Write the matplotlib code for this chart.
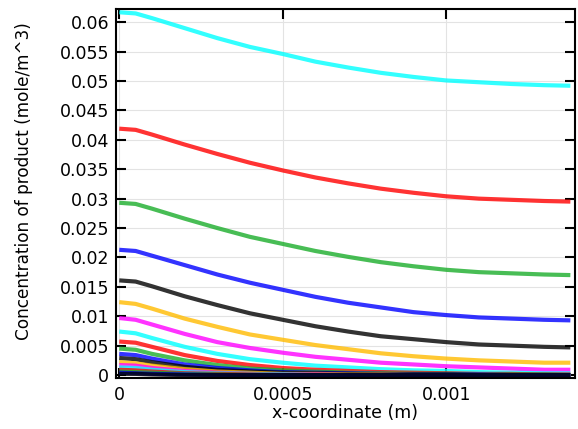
import matplotlib
matplotlib.use('Agg')
import matplotlib.pyplot as plt
from matplotlib.ticker import FuncFormatter

x_m = [0, 0.00005, 0.0001, 0.0002, 0.0003, 0.0004, 0.0005, 0.0006, 0.0007,
       0.0008, 0.0009, 0.001, 0.0011, 0.0012, 0.0013, 0.00138]

# concentration of product (mole/m^3), one list per curve, top to bottom
c01 = [0.0617, 0.0615, 0.0607, 0.0590, 0.0573, 0.0558, 0.0546, 0.0533, 0.0523,
       0.0514, 0.0507, 0.0501, 0.0498, 0.0495, 0.0493, 0.0492]
c02 = [0.0419, 0.0417, 0.0409, 0.0392, 0.0376, 0.0361, 0.0348, 0.0336, 0.0326,
       0.0317, 0.0310, 0.0304, 0.0300, 0.0298, 0.0296, 0.0295]
c03 = [0.0293, 0.0291, 0.0283, 0.0266, 0.0250, 0.0235, 0.0223, 0.0211, 0.0201,
       0.0192, 0.0185, 0.0179, 0.0175, 0.0173, 0.0171, 0.0170]
c04 = [0.0213, 0.0211, 0.0203, 0.0187, 0.0171, 0.0157, 0.0145, 0.0133, 0.0123,
       0.0115, 0.0107, 0.0102, 0.0098, 0.0096, 0.0094, 0.0093]
c05 = [0.0161, 0.0159, 0.0151, 0.0134, 0.0119, 0.0105, 0.0094, 0.0083, 0.0074,
       0.0066, 0.0061, 0.0056, 0.0052, 0.0050, 0.0048, 0.0047]
c06 = [0.0124, 0.0121, 0.0113, 0.0096, 0.0082, 0.0069, 0.0060, 0.0051, 0.0044,
       0.0037, 0.0032, 0.0028, 0.0025, 0.0023, 0.0021, 0.0021]
c07 = [0.0097, 0.0094, 0.0086, 0.0070, 0.0056, 0.0046, 0.0038, 0.0031, 0.0026,
       0.0021, 0.0018, 0.0015, 0.0013, 0.0011, 0.0009, 0.0009]
c08 = [0.0074, 0.0071, 0.0063, 0.0048, 0.0036, 0.0027, 0.0021, 0.0016, 0.0013,
       0.0010, 0.0008, 0.0007, 0.0005, 0.0004, 0.0003, 0.0003]
c09 = [0.0057, 0.0055, 0.0048, 0.0034, 0.0024, 0.0017, 0.0012, 0.0009, 0.0007,
       0.0005, 0.0004, 0.0003, 0.0002, 0.0002, 0.0001, 0.0001]
c10 = [0.0045, 0.0043, 0.0036, 0.0025, 0.0017, 0.0011, 0.0008, 0.0006, 0.0004,
       0.0003, 0.0002, 0.0002, 0.0001, 0.0001, 0.0001, 0.0]
c11 = [0.0036, 0.0034, 0.0028, 0.0018, 0.0012, 0.0008, 0.0005, 0.0004, 0.0003,
       0.0002, 0.0001, 0.0001, 0.0001, 0.0, 0.0, 0.0]
c12 = [0.0029, 0.0027, 0.0022, 0.0014, 0.0009, 0.0006, 0.0004, 0.0003, 0.0002,
       0.0001, 0.0001, 0.0001, 0.0, 0.0, 0.0, 0.0]
c13 = [0.0022, 0.0020, 0.0016, 0.0010, 0.0006, 0.0004, 0.0002, 0.0002, 0.0001,
       0.0001, 0.0, 0.0, 0.0, 0.0, 0.0, 0.0]
c14 = [0.0017, 0.0016, 0.0012, 0.0007, 0.0004, 0.0002, 0.0001, 0.0001, 0.0,
       0.0, 0.0, 0.0, 0.0, 0.0, 0.0, 0.0]
c15 = [0.0013, 0.0012, 0.0009, 0.0005, 0.0003, 0.0002, 0.0001, 0.0, 0.0,
       0.0, 0.0, 0.0, 0.0, 0.0, 0.0, 0.0]
c16 = [0.0009, 0.0008, 0.0006, 0.0003, 0.0002, 0.0001, 0.0, 0.0, 0.0,
       0.0, 0.0, 0.0, 0.0, 0.0, 0.0, 0.0]
c17 = [0.0006, 0.0005, 0.0004, 0.0002, 0.0001, 0.0, 0.0, 0.0, 0.0,
       0.0, 0.0, 0.0, 0.0, 0.0, 0.0, 0.0]
c18 = [0.0004, 0.0003, 0.0002, 0.0001, 0.0, 0.0, 0.0, 0.0, 0.0,
       0.0, 0.0, 0.0, 0.0, 0.0, 0.0, 0.0]
c19 = [0.0002, 0.0002, 0.0001, 0.0, 0.0, 0.0, 0.0, 0.0, 0.0,
       0.0, 0.0, 0.0, 0.0, 0.0, 0.0, 0.0]
curves = [c01, c02, c03, c04, c05, c06, c07, c08, c09, c10,
          c11, c12, c13, c14, c15, c16, c17, c18, c19]

# COMSOL-like colour cycle
cycle = ['#00ffff', '#ff0000', '#1aad2a', '#0000ff', '#000000', '#ffbb00', '#ff00ff']

y_ticks = [0, 0.005, 0.01, 0.015, 0.02, 0.025, 0.03, 0.035, 0.04, 0.045,
           0.05, 0.055, 0.06]
x_ticks = [0, 0.0005, 0.001]

plt.rcParams['font.family'] = 'DejaVu Sans'
fs = 12.5

fig = plt.figure(figsize=(5.78, 4.29), dpi=100)
ax = fig.add_axes([0.2007, 0.1189, 0.794, 0.8594])

for i, c in enumerate(curves):
    ax.plot(x_m, c, color=cycle[i % len(cycle)], lw=3, alpha=0.8,
            solid_capstyle='butt')

ax.set_xlim(-0.00001, 0.001394)
ax.set_ylim(-0.0005, 0.0622)
ax.set_xticks(x_ticks)
ax.set_yticks(y_ticks)
fmt = FuncFormatter(lambda v, p: f'{v:g}')
ax.xaxis.set_major_formatter(fmt)
ax.yaxis.set_major_formatter(fmt)
ax.tick_params(direction='in', length=7, width=1.5, top=True, right=True,
               labelsize=fs)
ax.tick_params(axis='y', pad=5)
ax.tick_params(axis='x', pad=6)
ax.grid(True, color='#e3e3e3', lw=0.8)
ax.set_axisbelow(True)
for s in ax.spines.values():
    s.set_linewidth(1.5)

ax.set_xlabel('x-coordinate (m)', fontsize=fs, labelpad=0)
ax.set_ylabel('Concentration of product (mole/m^3)', fontsize=12.2)
ax.yaxis.set_label_coords(-0.181, 0.535)

plt.savefig('out.png', dpi=100)
plt.close()
